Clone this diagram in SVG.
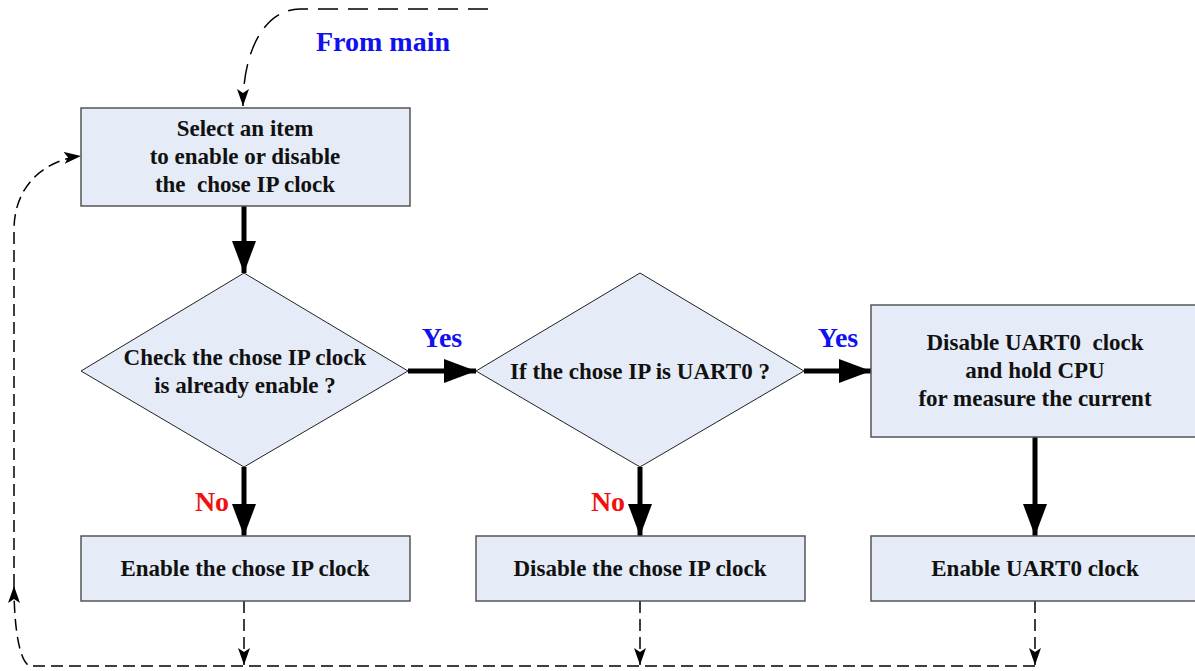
<svg xmlns="http://www.w3.org/2000/svg" width="1195" height="671" viewBox="0 0 1195 671">
  <style>
    .box { fill: #E6ECF7; stroke: #555; stroke-width: 1.5; }
    .dia { fill: #E6ECF7; stroke: #222; stroke-width: 1; }
    .t { font-family: "Liberation Serif", "Times New Roman", serif; font-weight: bold; font-size: 23px; fill: #111; text-anchor: middle; }
    .blue { font-family: "Liberation Serif", "Times New Roman", serif; font-weight: bold; font-size: 28px; fill: #1010F0; text-anchor: middle; }
    .red { font-family: "Liberation Serif", "Times New Roman", serif; font-weight: bold; font-size: 28px; fill: #F01010; text-anchor: middle; }
    .thick { stroke: #000; stroke-width: 5; fill: none; }
    .dash { stroke: #000; stroke-width: 1.5; fill: none; stroke-dasharray: 12 6; }
    .dash-long { stroke: #000; stroke-width: 1.5; fill: none; stroke-dasharray: 20 10; }
  </style>
  <defs>
    <marker id="big" markerUnits="userSpaceOnUse" markerWidth="32" markerHeight="24" refX="32" refY="12" orient="auto">
      <path d="M0,0 L32,12 L0,24 Z" fill="#000"/>
    </marker>
    <marker id="small" markerUnits="userSpaceOnUse" markerWidth="17" markerHeight="12" refX="17" refY="6" orient="auto">
      <path d="M0,0 L17,6 L0,12 L4,6 Z" fill="#000"/>
    </marker>
  </defs>

  <g id="connectors">
    <path class="thick" d="M244,206 V273" marker-end="url(#big)"/>
    <path class="thick" d="M244,467 V536" marker-end="url(#big)"/>
    <path class="thick" d="M408,371 H476" marker-end="url(#big)"/>
    <path class="thick" d="M640,467 V536" marker-end="url(#big)"/>
    <path class="thick" d="M804,371 H871" marker-end="url(#big)"/>
    <path class="thick" d="M1035,437 V536" marker-end="url(#big)"/>

    <path class="dash-long" d="M488,9 H300 C268,9 243,45 243,106" marker-end="url(#small)"/>
    <path class="dash" d="M244,601 V665" marker-end="url(#small)"/>
    <path class="dash" d="M640,601 V665" marker-end="url(#small)"/>
    <path class="dash" d="M1035,601 V665" marker-end="url(#small)"/>
    <path class="dash" d="M1035,666 H30 C20,663 14,630 14,586" marker-end="url(#small)"/>
    <path class="dash" d="M14,586 V230 C14,185 45,160 81,156" marker-end="url(#small)"/>
  </g>

  <g id="select">
    <rect class="box" x="81" y="108" width="329" height="98"/>
    <text class="t" x="245" y="136">Select an item</text>
    <text class="t" x="245" y="164">to enable or disable</text>
    <text class="t" x="245" y="192" xml:space="preserve">the  chose IP clock</text>
  </g>

  <g id="check">
    <polygon class="dia" points="244,273 408,371 244,467 81,371"/>
    <text class="t" x="245" y="365">Check the chose IP clock</text>
    <text class="t" x="245" y="393">is already enable ?</text>
  </g>

  <g id="is-uart0">
    <polygon class="dia" points="640,273 804,371 640,467 476,371"/>
    <text class="t" x="640" y="379">If the chose IP is UART0 ?</text>
  </g>

  <g id="hold">
    <rect class="box" x="871" y="305" width="328" height="132"/>
    <text class="t" x="1035" y="350" xml:space="preserve">Disable UART0  clock</text>
    <text class="t" x="1035" y="378">and hold CPU</text>
    <text class="t" x="1035" y="406">for measure the current</text>
  </g>

  <g id="enable-ip">
    <rect class="box" x="81" y="536" width="329" height="65"/>
    <text class="t" x="245" y="576">Enable the chose IP clock</text>
  </g>

  <g id="disable-ip">
    <rect class="box" x="476" y="536" width="329" height="65"/>
    <text class="t" x="640" y="576">Disable the chose IP clock</text>
  </g>

  <g id="enable-uart0">
    <rect class="box" x="871" y="536" width="328" height="65"/>
    <text class="t" x="1035" y="576">Enable UART0 clock</text>
  </g>

  <g id="labels">
    <text class="blue" x="383" y="51">From main</text>
    <text class="blue" x="442" y="347">Yes</text>
    <text class="blue" x="838" y="347">Yes</text>
    <text class="red" x="212" y="511">No</text>
    <text class="red" x="608" y="511">No</text>
  </g>
</svg>
